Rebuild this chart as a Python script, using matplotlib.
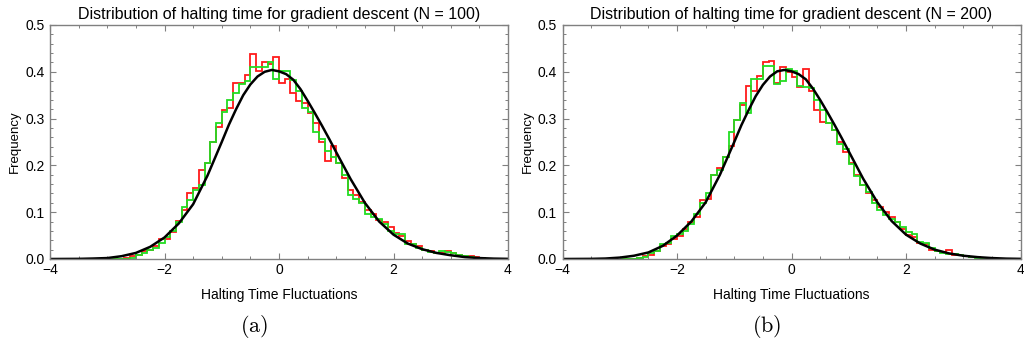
import matplotlib
matplotlib.use("Agg")
import matplotlib.pyplot as plt
import numpy as np
from matplotlib.ticker import MultipleLocator

plt.rcParams['font.family'] = ['Liberation Sans', 'DejaVu Sans']
plt.rcParams['mathtext.fontset'] = 'cm'

# histogram bin edges (width 0.1)
edges = np.round(np.arange(-3.0, 3.85, 0.1), 1)

# N = 100
red_100 = [0.0, 0.0, 0.001, 0.002, 0.006, 0.009, 0.017, 0.020, 0.028, 0.042,
           0.042, 0.057, 0.082, 0.104, 0.140, 0.151, 0.190, 0.206, 0.250, 0.282,
           0.318, 0.322, 0.377, 0.377, 0.393, 0.438, 0.402, 0.420, 0.417, 0.431,
           0.377, 0.384, 0.355, 0.337, 0.333, 0.311, 0.290, 0.250, 0.210, 0.242,
           0.206, 0.173, 0.148, 0.137, 0.122, 0.104, 0.097, 0.084, 0.079, 0.068,
           0.055, 0.049, 0.039, 0.031, 0.028, 0.020, 0.017, 0.012, 0.012, 0.017,
           0.013, 0.009, 0.007, 0.006, 0.004, 0.002, 0.001, 0.0]
green_100 = [0.0, 0.0, 0.0005, 0.001, 0.002, 0.009, 0.013, 0.020, 0.024, 0.035,
             0.047, 0.060, 0.079, 0.111, 0.126, 0.148, 0.158, 0.206, 0.250, 0.290,
             0.315, 0.340, 0.355, 0.373, 0.380, 0.410, 0.410, 0.410, 0.420, 0.384,
             0.402, 0.402, 0.382, 0.360, 0.322, 0.315, 0.271, 0.257, 0.231, 0.217,
             0.206, 0.180, 0.137, 0.129, 0.119, 0.097, 0.090, 0.086, 0.075, 0.060,
             0.053, 0.053, 0.031, 0.031, 0.024, 0.020, 0.015, 0.013, 0.017, 0.015,
             0.012, 0.008, 0.006, 0.004, 0.003, 0.002, 0.001, 0.0]

# N = 200
red_200 = [0.0, 0.001, 0.001, 0.003, 0.006, 0.009, 0.017, 0.028, 0.031, 0.042,
           0.049, 0.064, 0.079, 0.090, 0.126, 0.129, 0.180, 0.195, 0.217, 0.242,
           0.297, 0.330, 0.370, 0.358, 0.391, 0.420, 0.423, 0.377, 0.410, 0.400,
           0.388, 0.367, 0.406, 0.358, 0.319, 0.293, 0.290, 0.275, 0.250, 0.228,
           0.206, 0.180, 0.159, 0.140, 0.126, 0.111, 0.100, 0.089, 0.079, 0.064,
           0.051, 0.046, 0.035, 0.031, 0.020, 0.017, 0.015, 0.020, 0.009, 0.008,
           0.006, 0.005, 0.004, 0.003, 0.002, 0.001, 0.0005, 0.0]
green_200 = [0.0, 0.0005, 0.001, 0.002, 0.004, 0.013, 0.017, 0.031, 0.035, 0.049,
             0.053, 0.060, 0.075, 0.097, 0.119, 0.140, 0.180, 0.191, 0.217, 0.271,
             0.297, 0.333, 0.311, 0.384, 0.384, 0.413, 0.413, 0.373, 0.380, 0.405,
             0.402, 0.370, 0.367, 0.366, 0.340, 0.319, 0.290, 0.275, 0.246, 0.235,
             0.202, 0.177, 0.159, 0.144, 0.119, 0.104, 0.093, 0.086, 0.079, 0.068,
             0.057, 0.053, 0.036, 0.035, 0.024, 0.017, 0.013, 0.011, 0.010, 0.009,
             0.006, 0.004, 0.003, 0.002, 0.001, 0.001, 0.0, 0.0]

# limiting density (black curve)
curve_x = [-4.0, -3.5, -3.25, -3.0, -2.75, -2.5, -2.25, -2.0, -1.75, -1.5,
           -1.25, -1.0, -0.875, -0.75, -0.625, -0.5, -0.375, -0.25, -0.125, 0.0,
           0.125, 0.25, 0.375, 0.5, 0.625, 0.75, 0.875, 1.0, 1.25, 1.5,
           1.75, 2.0, 2.25, 2.5, 2.75, 3.0, 3.25, 3.5, 3.75, 4.0]
curve_100 = [0.0, 0.0003, 0.001, 0.002, 0.006, 0.013, 0.026, 0.046, 0.076, 0.117,
             0.178, 0.250, 0.287, 0.320, 0.350, 0.373, 0.390, 0.400, 0.404, 0.401,
             0.395, 0.383, 0.363, 0.338, 0.312, 0.285, 0.257, 0.228, 0.171, 0.120,
             0.080, 0.052, 0.033, 0.021, 0.013, 0.008, 0.004, 0.002, 0.0008, 0.0003]
curve_200 = [0.0, 0.0003, 0.001, 0.003, 0.007, 0.014, 0.028, 0.050, 0.080, 0.121,
             0.180, 0.250, 0.286, 0.318, 0.348, 0.372, 0.390, 0.401, 0.404, 0.401,
             0.395, 0.384, 0.364, 0.340, 0.314, 0.287, 0.259, 0.230, 0.172, 0.121,
             0.081, 0.052, 0.033, 0.020, 0.012, 0.007, 0.004, 0.002, 0.0008, 0.0003]

panels = [("100", red_100, green_100, curve_100, "(a)"),
          ("200", red_200, green_200, curve_200, "(b)")]

fig = plt.figure(figsize=(10.24, 3.43), dpi=100)
lefts = [50 / 1024, 562.5 / 1024]
frame = '#808080'

for left, (n, red, green, curve, tag) in zip(lefts, panels):
    ax = fig.add_axes([left, (343 - 259) / 343, 458 / 1024, (259 - 25) / 343])
    ax.stairs(red, edges, color='#ff1a1a', lw=1.3)
    ax.stairs(green, edges, color='#22dd22', lw=1.3)
    ax.plot(curve_x, curve, color='black', lw=1.8, solid_joinstyle='round')

    ax.set_xlim(-4, 4)
    ax.set_ylim(0, 0.5)
    ax.xaxis.set_minor_locator(MultipleLocator(0.5))
    ax.yaxis.set_minor_locator(MultipleLocator(0.02))
    ax.set_xticks([-4, -2, 0, 2, 4])
    ax.set_xticklabels(['\u22124', '\u22122', '0', '2', '4'])
    ax.set_yticks([0, 0.1, 0.2, 0.3, 0.4, 0.5])
    ax.set_yticklabels(['0.0', '0.1', '0.2', '0.3', '0.4', '0.5'])
    ax.tick_params(which='both', direction='in', top=True, right=True,
                   color=frame, labelsize=10)
    ax.tick_params(axis='x', pad=3)
    ax.tick_params(axis='y', pad=4)
    ax.tick_params(which='major', length=4, width=0.8)
    ax.tick_params(which='minor', length=2, width=0.7)
    for s in ax.spines.values():
        s.set_color(frame)
        s.set_linewidth(1.0)

    ax.set_title("Distribution of halting time for gradient descent (N = %s)" % n,
                 fontsize=11.5, pad=4)
    ax.set_xlabel("Halting Time Fluctuations", fontsize=10, labelpad=8)
    ax.set_ylabel("Frequency", fontsize=9.5, labelpad=3)
    fig.text(left + 204 / 1024, 1 - 326 / 343, r'$\mathrm{%s}$' % tag,
             fontsize=16, ha='center', va='center')

fig.savefig("out.png", dpi=100)
